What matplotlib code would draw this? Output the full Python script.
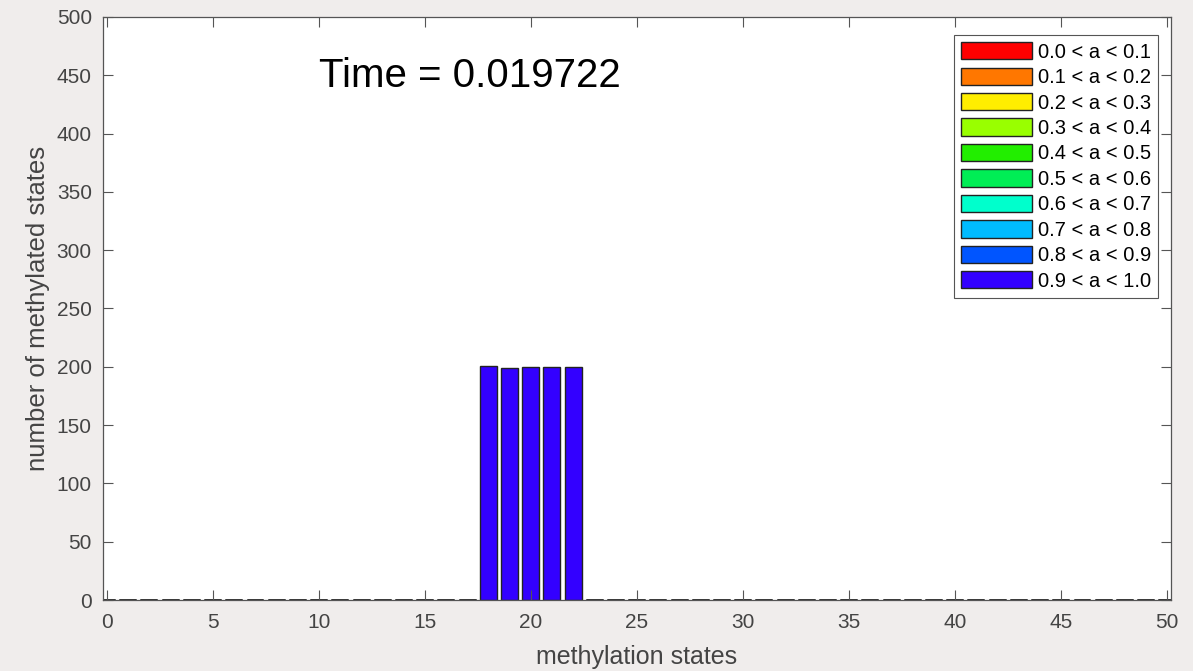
import numpy as np
import matplotlib
matplotlib.use("Agg")
from matplotlib import pyplot as plt

# methylation states on the x axis
states = np.arange(0, 51)

# states that hold entities at this time step
occupied_states = [18, 19, 20, 21, 22]

# class labels and colours (one stacked series per class)
class_labels = ['0.0 < a < 0.1', '0.1 < a < 0.2', '0.2 < a < 0.3', '0.3 < a < 0.4',
                '0.4 < a < 0.5', '0.5 < a < 0.6', '0.6 < a < 0.7', '0.7 < a < 0.8',
                '0.8 < a < 0.9', '0.9 < a < 1.0']
class_colors = ['#ff0000', '#ff7700', '#ffee00', '#99ff00', '#22ee00',
                '#00ee55', '#00ffcc', '#00bbff', '#0055ff', '#3300ff']

# counts of each class at the occupied states
counts_00_01 = [0, 0, 0, 0, 0]
counts_01_02 = [0, 0, 0, 0, 0]
counts_02_03 = [0, 0, 0, 0, 0]
counts_03_04 = [0, 0, 0, 0, 0]
counts_04_05 = [0, 0, 0, 0, 0]
counts_05_06 = [0, 0, 0, 0, 0]
counts_06_07 = [0, 0, 0, 0, 0]
counts_07_08 = [0, 0, 0, 0, 0]
counts_08_09 = [0, 0, 0, 0, 0]
counts_09_10 = [201, 199, 200, 200, 200]

time_value = 0.019722

class_counts = [counts_00_01, counts_01_02, counts_02_03, counts_03_04, counts_04_05,
                counts_05_06, counts_06_07, counts_07_08, counts_08_09, counts_09_10]

plt.rcParams['font.family'] = ['Liberation Sans', 'DejaVu Sans']

fig = plt.figure(figsize=(11.93, 6.71), dpi=100, facecolor='#f0edec')
ax = fig.add_axes([0.0863, 0.1058, 0.8953, 0.8689])

bottom = np.zeros(len(states))
for label, color, vals in zip(class_labels, class_colors, class_counts):
    full = np.zeros(len(states))
    full[np.searchsorted(states, occupied_states)] = vals
    ax.bar(states, full, width=0.8, bottom=bottom, color=color,
           edgecolor='#222222', linewidth=1.0, label=label)
    bottom += full

ax.set_xlim(-0.17, 50.2)
ax.set_ylim(0, 500)
ax.set_xticks(np.arange(0, 51, 5))
ax.set_yticks(np.arange(0, 501, 50))
ax.tick_params(direction='in', top=True, right=True, length=7, width=0.8,
               labelsize=15, colors='#555555', labelcolor='#444444')
ax.tick_params(axis='x', pad=9)
ax.tick_params(axis='y', pad=8)
for s in ax.spines.values():
    s.set_color('#555555')
    s.set_linewidth(0.9)

ax.set_xlabel('methylation states', fontsize=18, color='#444444', labelpad=10)
ax.set_ylabel('number of methylated states', fontsize=18.5, color='#444444', labelpad=5)

ax.text(10, 440, 'Time = %g' % time_value, fontsize=29, va='baseline', ha='left', color='black')

leg = ax.legend(loc='upper right', bbox_to_anchor=(0.9878, 0.969), fontsize=14.5,
                handlelength=3.5, handleheight=0.95, labelspacing=0.29,
                handletextpad=0.3, borderpad=0.35, borderaxespad=0,
                fancybox=False, framealpha=1, edgecolor='#555555')
leg.get_frame().set_linewidth(0.8)

fig.savefig('out.png', dpi=100, facecolor=fig.get_facecolor())
